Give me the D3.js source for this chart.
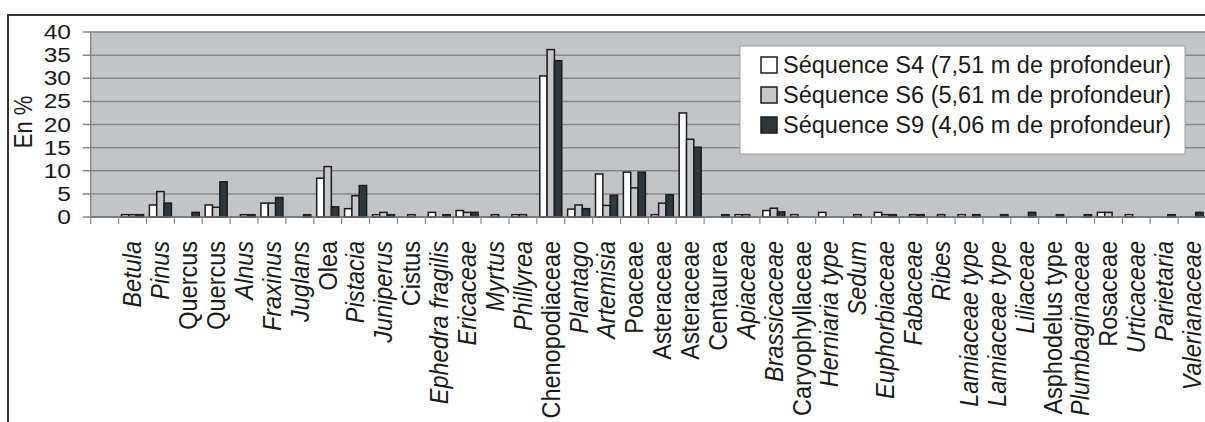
<html>
<head>
<title>Pollen spectra</title>
<script src="https://d3js.org/d3.v7.min.js"></script>
<style>
  body { margin: 0; background: #fff; }
  text { font-family: "Liberation Sans", Arial, sans-serif; fill: #1a1a1a; }
</style>
</head>
<body>
<script>
// taxa (first slot is an empty category, as in the original figure)
var categories = ["", "Betula", "Pinus", "Quercus", "Quercus", "Alnus", "Fraxinus", "Juglans", "Olea",
  "Pistacia", "Juniperus", "Cistus", "Ephedra fragilis", "Ericaceae", "Myrtus", "Phillyrea",
  "Chenopodiaceae", "Plantago", "Artemisia", "Poaceae", "Asteraceae", "Asteraceae", "Centaurea",
  "Apiaceae", "Brassicaceae", "Caryophyllaceae", "Herniaria type", "Sedum", "Euphorbiaceae",
  "Fabaceae", "Ribes", "Lamiaceae type", "Lamiaceae type", "Liliaceae", "Asphodelus type",
  "Plumbaginaceae", "Rosaceae", "Urticaceae", "Parietaria", "Valerianaceae"];

var seriesNames = ["Séquence S4 (7,51 m de profondeur)",
  "Séquence S6 (5,61 m de profondeur)",
  "Séquence S9 (4,06 m de profondeur)"];

var s4 = [0, 0.5, 2.6, 0, 2.6, 0, 3.0, 0, 8.4, 1.8, 0.5, 0, 1.0, 1.4, 0, 0.5, 30.5, 1.7, 9.3, 9.7,
  0.5, 22.5, 0, 0.5, 1.4, 0.5, 1.0, 0, 1.0, 0, 0, 0.5, 0, 0, 0, 0, 1.0, 0.5, 0, 0];
var s6 = [0, 0.5, 5.5, 0, 2.1, 0.5, 3.0, 0, 10.9, 4.6, 1.0, 0.5, 0, 1.0, 0.5, 0.5, 36.2, 2.6, 2.5, 6.3,
  3.0, 16.8, 0, 0.5, 1.9, 0, 0, 0.5, 0.5, 0.5, 0.5, 0, 0, 0, 0, 0, 1.0, 0, 0, 0];
var s9 = [0, 0.5, 3.0, 1.0, 7.6, 0.5, 4.2, 0.5, 2.2, 6.8, 0.5, 0, 0.5, 1.0, 0, 0, 33.8, 1.8, 4.7, 9.7,
  4.8, 15.1, 0.5, 0, 1.1, 0, 0, 0, 0.5, 0.5, 0, 0.5, 0.5, 1.0, 0.5, 0.5, 0, 0, 0.5, 1.0];

var yTicks = [0, 5, 10, 15, 20, 25, 30, 35, 40];

// labels set in roman type (all the others are italic)
var uprightLabels = [3, 4, 8, 11, 16, 19, 20, 21, 22, 25, 34, 36];

var colors = ["#ffffff", "#c6c7cb", "#2c373e"];
var allSeries = [s4, s6, s9];

var width = 1205, height = 422;
var plotL = 90.7, plotR = 1206, plotT = 32, plotB = 217;

var svg = d3.select("body").append("svg")
  .attr("width", width).attr("height", height);

// outer frame (top and left only)
svg.append("path")
  .attr("d", "M8,423 V15 H1206")
  .attr("fill", "none").attr("stroke", "#333").attr("stroke-width", 2);

var x = d3.scaleBand().domain(d3.range(categories.length)).range([plotL, plotR]);
var x1 = d3.scaleBand().domain([0, 1, 2]).range([0, x.bandwidth()]).paddingOuter(0.4);
var y = d3.scaleLinear().domain([0, 40]).range([plotB, plotT]);

// plot background
svg.append("rect")
  .attr("x", plotL).attr("y", plotT)
  .attr("width", plotR - plotL).attr("height", plotB - plotT)
  .attr("fill", "#c3c4c8");

// gridlines + y ticks
svg.selectAll("line.grid").data(yTicks).enter().append("line")
  .attr("x1", plotL - 8).attr("x2", plotR)
  .attr("y1", function(d) { return y(d); })
  .attr("y2", function(d) { return y(d); })
  .attr("stroke", "#86878b").attr("stroke-width", 1.5);

svg.append("line")
  .attr("x1", plotL).attr("x2", plotL).attr("y1", plotT).attr("y2", plotB)
  .attr("stroke", "#86878b").attr("stroke-width", 1.5);

svg.selectAll("text.ytick").data(yTicks).enter().append("text")
  .attr("transform", function(d) { return "translate(71," + (y(d) + 7) + ") scale(1.2,1)"; })
  .attr("text-anchor", "end")
  .attr("font-size", "20.5px")
  .text(function(d) { return d; });

// y title
svg.append("text")
  .attr("transform", "translate(32,122) scale(1.15,1) rotate(-90)")
  .attr("text-anchor", "middle")
  .attr("font-size", "22px")
  .text("En %");

// bars
var groups = svg.selectAll("g.cat").data(categories).enter().append("g")
  .attr("transform", function(d, i) { return "translate(" + x(i) + ",0)"; });

groups.selectAll("rect")
  .data(function(d, i) {
    return allSeries.map(function(s, k) { return { k: k, v: s[i] }; })
      .filter(function(e) { return e.v > 0; });
  })
  .enter().append("rect")
  .attr("x", function(d) { return x1(d.k); })
  .attr("width", x1.bandwidth())
  .attr("y", function(d) { return y(d.v); })
  .attr("height", function(d) { return y(0) - y(d.v); })
  .attr("fill", function(d) { return colors[d.k]; })
  .attr("stroke", "#1c1c1c").attr("stroke-width", 1.5);

// x axis line and category ticks
svg.append("line")
  .attr("x1", plotL).attr("x2", plotR).attr("y1", plotB).attr("y2", plotB)
  .attr("stroke", "#6f7074").attr("stroke-width", 1.5);

svg.selectAll("line.xtick").data(d3.range(categories.length + 1)).enter().append("line")
  .attr("x1", function(i) { return plotL + i * x.step(); })
  .attr("x2", function(i) { return plotL + i * x.step(); })
  .attr("y1", plotB).attr("y2", plotB + 7)
  .attr("stroke", "#8a8b8f").attr("stroke-width", 1.2);

// category labels
svg.selectAll("text.xlab").data(categories).enter().append("text")
  .attr("transform", function(d, i) {
    return "translate(" + (x(i) + x.bandwidth() / 2) + ",241) scale(1.08,1) rotate(-90)";
  })
  .attr("text-anchor", "end")
  .attr("dy", "0.35em")
  .attr("font-size", "23.5px")
  .attr("font-style", function(d, i) { return uprightLabels.indexOf(i) >= 0 ? "normal" : "italic"; })
  .text(function(d) { return d; });

// legend
var legend = svg.append("g");
legend.append("rect")
  .attr("x", 740).attr("y", 46).attr("width", 445).attr("height", 108)
  .attr("fill", "#fff").attr("stroke", "#9a9b9f").attr("stroke-width", 1);

var items = legend.selectAll("g.item").data(seriesNames).enter().append("g")
  .attr("transform", function(d, i) { return "translate(0," + (65 + i * 30) + ")"; });

items.append("rect")
  .attr("x", 761).attr("y", -8).attr("width", 16).attr("height", 16)
  .attr("fill", function(d, i) { return colors[i]; })
  .attr("stroke", "#1c1c1c").attr("stroke-width", 1.5);

items.append("text")
  .attr("x", 783).attr("dy", "0.35em")
  .attr("font-size", "23.5px")
  .text(function(d) { return d; });
</script>
</body>
</html>
